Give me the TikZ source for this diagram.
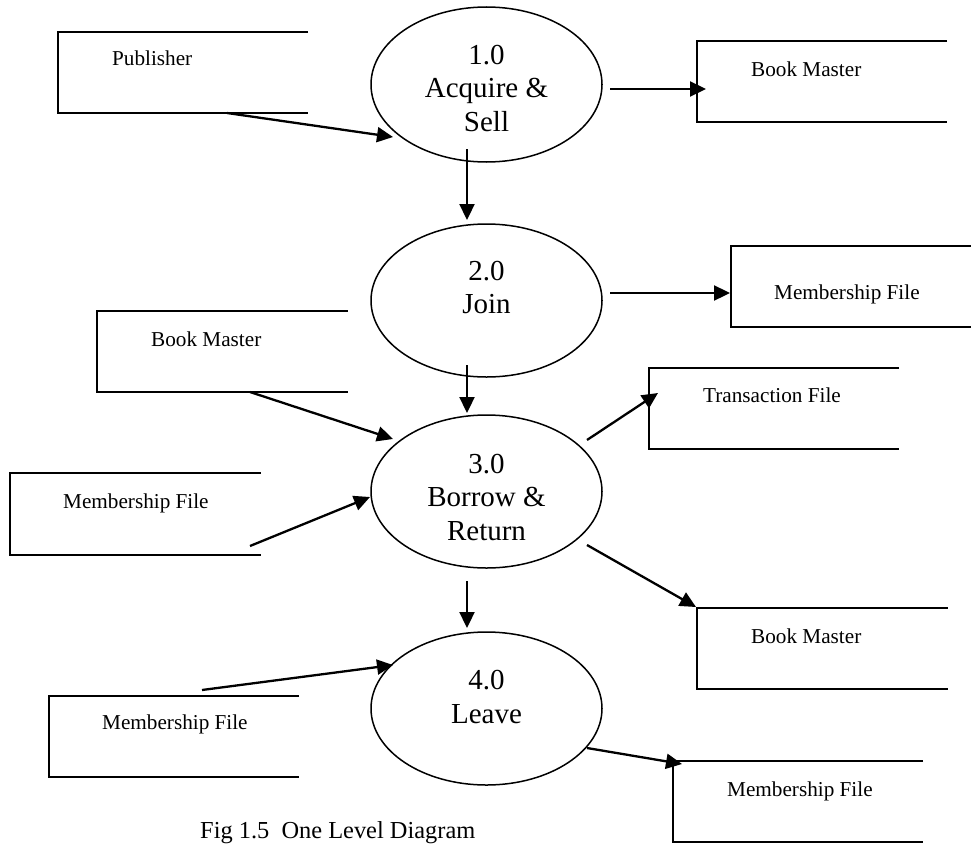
\documentclass[tikz,border=0pt]{standalone}
\usepackage{fontspec}
\setmainfont{Liberation Serif}
\usetikzlibrary{shapes.geometric,arrows.meta,calc}

\begin{document}
\begin{tikzpicture}[x=1pt,y=-1pt,
  proc/.style={draw,ellipse,line width=1.5pt,minimum width=231pt,minimum height=153pt,inner sep=0pt},
  store/.style={minimum width=250pt,minimum height=81pt,inner sep=0pt},
  storeline/.style={line width=2.2pt},
  stxt/.style={anchor=base west,inner sep=0pt,font=\fontsize{21.2}{25}\selectfont},
  ptxt/.style={anchor=base,inner sep=0pt,align=center,font=\fontsize{29}{33.5}\selectfont},
  flow/.style={line width=2.3pt,-{Triangle[length=16pt,width=15pt]}}]

\useasboundingbox (0,0) rectangle (971,843);

% processes
\node[proc,minimum height=155pt] (p1) at (486.5,84.5) {};
\node[proc] (p2) at (486.5,300.5) {};
\node[proc] (p3) at (486.5,491.5) {};
\node[proc] (p4) at (486.5,708.5) {};

% process labels (anchored on the baseline of their last line)
\node[ptxt] (p1t) at (486.5,131) {1.0\\Acquire \&\\Sell};
\node[ptxt] (p2t) at (486.5,313.5) {2.0\\Join};
\node[ptxt] (p3t) at (486.5,540) {3.0\\Borrow \&\\Return};
\node[ptxt] (p4t) at (486.5,723) {4.0\\Leave};

% data stores (open on the right)
\node[store] (pub) at (183,72.5) {};
\node[store] (bm1) at (822,81.5) {};
\node[store] (mf1) at (856,286.5) {};
\node[store] (bm2) at (222.5,351.5) {};
\node[store] (mf2) at (135.5,514) {};
\node[store] (tf)  at (774,408.5) {};
\node[store] (bm3) at (822.5,648.5) {};
\node[store] (mf3) at (174,736.5) {};
\node[store] (mf4) at (798,801.5) {};

\foreach \s in {pub,bm1,mf1,bm2,mf2,tf,bm3,mf3,mf4}
  \draw[storeline] (\s.north east) -- (\s.north west) -- (\s.south west) -- (\s.south east);

\node[stxt] (pubt) at (112,66) {Publisher};
\node[stxt] (bm1t) at (751,76) {Book Master};
\node[stxt] (mf1t) at (774,299) {Membership File};
\node[stxt] (bm2t) at (151,346) {Book Master};
\node[stxt] (mf2t) at (63,508) {Membership File};
\node[stxt] (tft)  at (703,402) {Transaction File};
\node[stxt] (bm3t) at (751,643) {Book Master};
\node[stxt] (mf3t) at (102,729) {Membership File};
\node[stxt] (mf4t) at (727,796) {Membership File};

% data flows
\draw[flow] ($(pub.center)+(44,40.5)$) -- ($(p1.center)+(-93.5,52.5)$);
\draw[flow] ($(p1.center)+(123.5,4.5)$) -- ($(bm1.center)+(-116,7.5)$);
\draw[flow] ($(p1.center)+(-19.5,64.5)$) -- ($(p2.center)+(-19.5,-80.5)$);
\draw[flow] ($(p2.center)+(123.5,-7.5)$) -- ($(mf1.center)+(-126,6.5)$);
\draw[flow] ($(p2.center)+(-19.5,64.5)$) -- ($(p3.center)+(-19.5,-78.5)$);
\draw[flow] ($(bm2.center)+(27.5,40.5)$) -- ($(p3.center)+(-93.5,-52.5)$);
\draw[flow] ($(mf2.center)+(114.5,32)$) -- ($(p3.center)+(-116.5,5.5)$);
\draw[flow] ($(p3.center)+(100.5,-51.5)$) -- ($(tf.center)+(-116,-15.5)$);
\draw[flow] ($(p3.center)+(100.5,53.5)$) -- ($(bm3.center)+(-126.5,-41.5)$);
\draw[flow] ($(p3.center)+(-19.5,89.5)$) -- ($(p4.center)+(-19.5,-80.5)$);
\draw[flow] ($(mf3.center)+(28,-46.5)$) -- ($(p4.center)+(-93.5,-43.5)$);
\draw[flow] ($(p4.center)+(100.5,39.5)$) -- ($(mf4.center)+(-116,-37.5)$);

% caption
\node[anchor=base west,inner sep=0pt,font=\fontsize{24.4}{28}\selectfont] (cap) at (200,838) {Fig 1.5\ \ One Level Diagram};
\end{tikzpicture}
\end{document}
